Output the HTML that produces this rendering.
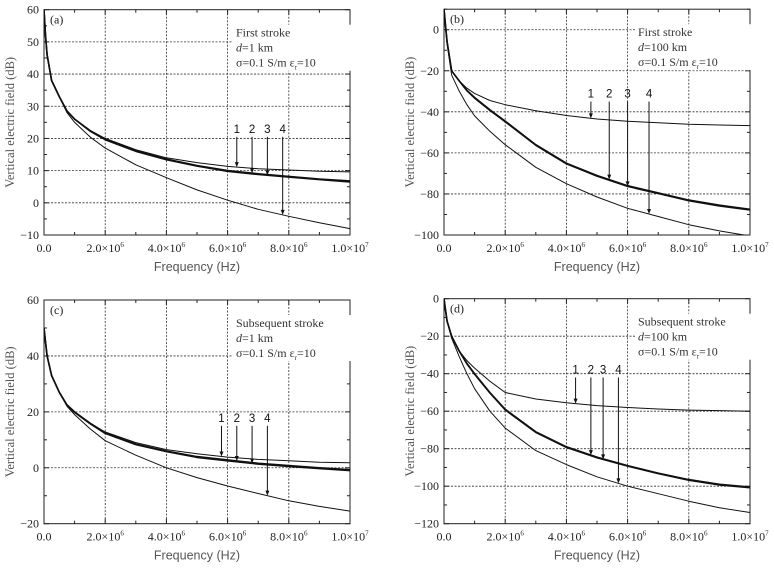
<!DOCTYPE html>
<html><head><meta charset="utf-8">
<style>
html,body{margin:0;padding:0;background:#fff;}
svg{display:block;font-family:"Liberation Serif","Noto Serif CJK SC",serif;}
</style></head>
<body>
<svg id="fig" width="774" height="569" viewBox="0 0 774 569" xmlns="http://www.w3.org/2000/svg"></svg>
<script>
// Shared frequency samples (MHz)
const freqMHz = [0,0.05,0.1,0.25,0.5,0.75,1,1.5,2,3,4,5,6,7,8,9,10];
const xTickLabels = ["0.0","2.0×10","4.0×10","6.0×10","8.0×10","1.0×10"];
const xTickExp = ["","6","6","6","6","7"];
// Panel (a)
const aCurve1 = [60,52,46,38,33,28.5,26,22.5,20,16.5,14,12.5,11.3,10.6,10.2,9.8,9.6];
const aCurve2 = [60,52,46,38,33,28.5,26,22.5,19.8,16.2,13.6,11.6,10,9,8.2,7.4,6.8];
const aCurve3 = [60,52,46,38,33,28.5,26,22.3,19.6,16,13.4,11.4,9.8,8.8,8,7.2,6.5];
const aCurve4 = [60,52,46,38,33,28,25,20.5,17,11.8,7.8,4,0.8,-2,-4.2,-6.2,-8];
const aYTicks = [-10,0,10,20,30,40,50,60];
const aArrowX = [6.3,6.8,7.3,7.8];
// Panel (b)
const bCurve1 = [10,2,-6,-20,-25,-28.5,-31,-34.5,-36.5,-39.5,-41.8,-43.5,-44.6,-45.3,-46,-46.4,-46.7];
const bCurve2 = [10,2,-6,-20,-25,-29.5,-33,-39,-44.5,-56,-65,-71,-76,-79.5,-83,-85.5,-87.5];
const bCurve3 = [10,2,-6,-20,-25,-29.7,-33.3,-39.3,-44.8,-56.3,-65.3,-71.3,-76.3,-79.8,-83.3,-85.8,-87.8];
const bCurve4 = [10,2,-7,-22,-30,-36.5,-42,-49.5,-56,-67,-75,-81.5,-87,-91,-95,-98,-100.5];
const bYTicks = [-100,-80,-60,-40,-20,0];
const bArrowX = [4.8,5.4,6.0,6.7];
// Panel (c)
const cCurve1 = [50,45,40,33,27,22.5,20,16,12.8,9,6.5,5,3.8,3,2.5,2,1.8];
const cCurve2 = [50,45,40,33,27,22.5,20,16,12.5,8.5,6,4,2.8,1.6,0.8,0,-0.7];
const cCurve3 = [50,45,40,33,27,22.3,19.8,15.8,12.3,8.3,5.8,3.7,2.5,1.3,0.5,-0.3,-1];
const cCurve4 = [50,45,40,33,27,22,19,14,9.7,4.5,0,-3.5,-6.5,-9.2,-11.8,-13.8,-15.5];
const cYTicks = [-20,0,20,40,60];
const cArrowX = [5.8,6.3,6.8,7.3];
// Panel (d)
const dCurve1 = [0,-6,-12,-20,-28,-33,-37,-44,-50,-53.5,-55.5,-57,-58,-58.8,-59.4,-59.7,-60];
const dCurve2 = [0,-6,-12,-20,-28,-34.5,-40,-50,-59,-71,-79,-84.5,-89,-93,-96.5,-99,-100.5];
const dCurve3 = [0,-6,-12,-20,-28,-34.7,-40.3,-50.3,-59.3,-71.3,-79.3,-84.8,-89.3,-93.3,-96.8,-99.3,-100.8];
const dCurve4 = [0,-6,-12,-21,-31,-40,-48,-60,-69,-81,-88.5,-95,-100,-104,-108,-111.5,-114];
const dYTicks = [-120,-100,-80,-60,-40,-20,0];
const dArrowX = [4.3,4.8,5.2,5.7];

const NS="http://www.w3.org/2000/svg";
const svg=document.getElementById('fig');
function mk(tag,attrs,parent){const e=document.createElementNS(NS,tag);for(const k in attrs)e.setAttribute(k,attrs[k]);(parent||svg).appendChild(e);return e;}

function interp(xs,ys,x){for(let i=0;i<xs.length-1;i++){if(x>=xs[i]&&x<=xs[i+1]){const t=(x-xs[i])/(xs[i+1]-xs[i]);return ys[i]+t*(ys[i+1]-ys[i]);}}return ys[ys.length-1];}

function panel(p){
  const g=mk('g',{});
  
  
  const X=f=>p.x0+(p.x1-p.x0)*f/10;
  const Y=v=>p.yb+(p.yt-p.yb)*(v-p.ymin)/(p.ymax-p.ymin);
  const top=Y(p.ymax), bot=Y(p.ymin);
  const cp=mk('clipPath',{id:'clip-'+p.id},g);
  mk('rect',{x:p.x0,y:top,width:p.x1-p.x0,height:bot-top},cp);
  for(let i=1;i<=4;i++){const l=mk('line',{x1:X(i*2),x2:X(i*2),y1:top,y2:bot,stroke:'#333','stroke-width':0.8,'stroke-dasharray':'2,1.5'},g);}
  p.yticks.forEach(v=>{if(v>p.ymin&&v<p.ymax){const l=mk('line',{x1:p.x0,x2:p.x1,y1:Y(v),y2:Y(v),stroke:'#333','stroke-width':0.8,'stroke-dasharray':'2,1.5'},g);}});
  const fr=mk('rect',{x:p.x0,y:top,width:p.x1-p.x0,height:bot-top,fill:'none',stroke:'#222','stroke-width':1},g);
  
  for(let i=0;i<=10;i++){const len=i%2===0?5:3;
    mk('line',{x1:X(i),x2:X(i),y1:bot,y2:bot-len,stroke:'#222'},g);
    mk('line',{x1:X(i),x2:X(i),y1:top,y2:top+len,stroke:'#222'},g);}
  const step=p.yticks[1]-p.yticks[0];
  for(let v=p.yticks[0]-step/2;v<=p.ymax+0.001;v+=step/2){if(v<p.ymin-0.001)continue;const major=p.yticks.includes(v);const len=major?5:3;
    mk('line',{x1:p.x0,x2:p.x0+len,y1:Y(v),y2:Y(v),stroke:'#222'},g);
    mk('line',{x1:p.x1,x2:p.x1-len,y1:Y(v),y2:Y(v),stroke:'#222'},g);}
  p.yticks.forEach(v=>{const t=mk('text',{x:p.x0-5,y:Y(v)+4,'text-anchor':'end','font-size':12,fill:'#222'},g);
    t.textContent=(v<0?'−'+(-v):''+v);});
  xTickLabels.forEach((s,i)=>{const t=mk('text',{x:X(i*2),y:bot+17,'text-anchor':'middle','font-size':12,fill:'#222'},g);
    t.textContent=s;if(xTickExp[i]){const ts=mk('tspan',{'font-size':7,dy:-5},t);ts.textContent=xTickExp[i];}
    });
  const xt=mk('text',{x:(p.x0+p.x1)/2,y:bot+36,'text-anchor':'middle','font-size':12.5,fill:'#555','font-family':'Liberation Sans, sans-serif'},g);
  xt.textContent='Frequency (Hz)';
  const yc=(top+bot)/2, yx=p.x0-30;
  const yt=mk('text',{x:yx,y:yc,'text-anchor':'middle','font-size':12.5,fill:'#555',transform:`rotate(-90 ${yx} ${yc})`},g);
  yt.textContent='Vertical electric field (dB)';
  // annotation background first
  const ax=p.annX, ay=top+27;
  mk('rect',{x:ax-3,y:ay-12,width:118,height:46,fill:'#fff'},g);
  const widths=[1,1.6,1.6,1];
  p.curves.forEach((c,ci)=>{let d='';c.forEach((v,i)=>{d+=(i?'L':'M')+X(freqMHz[i]).toFixed(1)+','+Y(v).toFixed(1);});
    const pa=mk('path',{d:d,fill:'none',stroke:'#111','stroke-width':widths[ci],'stroke-linejoin':'round','clip-path':'url(#clip-'+p.id+')'},g);
    });
  p.arrowX.forEach((f,i)=>{const x=X(f);const yEnd=Y(interp(freqMHz,p.curves[i],f));const yS=Y(p.arrowStart);
    const l=mk('line',{x1:x,x2:x,y1:yS,y2:yEnd-3,stroke:'#111','stroke-width':1},g);
    
    mk('path',{d:`M${x-2},${yEnd-5}L${x+2},${yEnd-5}L${x},${yEnd}Z`,fill:'#111'},g);
    const t=mk('text',{x:x,y:yS-4,'text-anchor':'middle','font-size':11.5,fill:'#111','font-family':'Liberation Sans, sans-serif'},g);
    t.textContent=''+(i+1);});
  const pl=mk('text',{x:p.x0+6,y:top+14,'font-size':12,fill:'#222'},g);
  pl.textContent='('+p.id+')';
  const l1=mk('text',{x:ax,y:ay,'font-size':12,fill:'#333'},g);l1.textContent=p.stroke;
  
  const l2=mk('text',{x:ax,y:ay+15,'font-size':12,fill:'#333'},g);
  const it=mk('tspan',{'font-style':'italic'},l2);it.textContent='d';const r=mk('tspan',{},l2);r.textContent='='+p.dist+' km';
  
  const l3=mk('text',{x:ax,y:ay+30,'font-size':12,fill:'#333'},g);
  const a1=mk('tspan',{},l3);a1.textContent='σ=0.1 S/m ε';const a2=mk('tspan',{'font-size':7,dy:3},l3);a2.textContent='r';const a3=mk('tspan',{dy:-3},l3);a3.textContent='=10';
  
}

panel({id:'a',x0:44,x1:350,yt:9.7,yb:235,ymin:-10,ymax:60,yticks:aYTicks,curves:[aCurve1,aCurve2,aCurve3,aCurve4],arrowX:aArrowX,arrowStart:20.5,annX:236,stroke:'First stroke',dist:'1'});
panel({id:'b',x0:444,x1:750,yt:9.2,yb:235,ymin:-100,ymax:10,yticks:bYTicks,curves:[bCurve1,bCurve2,bCurve3,bCurve4],arrowX:bArrowX,arrowStart:-35,annX:638,stroke:'First stroke',dist:'100'});
panel({id:'c',x0:44,x1:350,yt:300,yb:523.7,ymin:-20,ymax:60,yticks:cYTicks,curves:[cCurve1,cCurve2,cCurve3,cCurve4],arrowX:cArrowX,arrowStart:15,annX:236,stroke:'Subsequent stroke',dist:'1'});
panel({id:'d',x0:444,x1:750,yt:298.7,yb:523.7,ymin:-120,ymax:0,yticks:dYTicks,curves:[dCurve1,dCurve2,dCurve3,dCurve4],arrowX:dArrowX,arrowStart:-42,annX:638,stroke:'Subsequent stroke',dist:'100'});
</script>
</body></html>
